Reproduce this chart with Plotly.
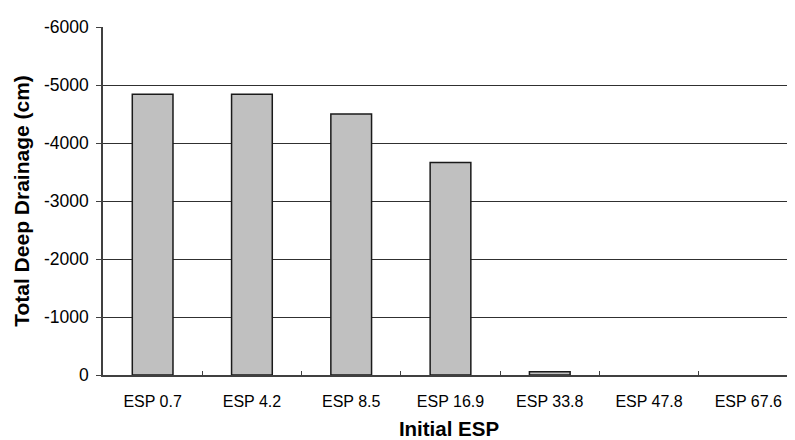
import plotly.graph_objects as go

categories = ["ESP 0.7", "ESP 4.2", "ESP 8.5", "ESP 16.9", "ESP 33.8", "ESP 47.8", "ESP 67.6"]
drainage = [-4840, -4840, -4500, -3665, -55, 0, 0]
y_ticks = [0, -1000, -2000, -3000, -4000, -5000, -6000]

font_family = "Liberation Sans, Arial, sans-serif"

# zero-valued bars are not outlined (as in the original chart)
outline_widths = [0 if v == 0 else 1.5 for v in drainage]

fig = go.Figure()
fig.add_trace(go.Bar(
    x=categories,
    y=drainage,
    width=0.41,
    marker=dict(color="#C0C0C0", line=dict(color="#1a1a1a", width=outline_widths)),
))

fig.update_layout(
    width=787,
    height=432,
    margin=dict(l=95, r=0, t=19, b=65),
    paper_bgcolor="white",
    plot_bgcolor="white",
    showlegend=False,
    font=dict(family=font_family, color="black"),
)

fig.update_xaxes(
    range=[-0.5, 6.47],
    showgrid=False,
    showline=True,
    linecolor="#404040",
    linewidth=1.5,
    ticks="inside",
    tickson="boundaries",
    ticklen=4,
    tickcolor="#404040",
    tickwidth=1,
    tickfont=dict(size=16, family=font_family),
    ticklabelstandoff=11,
    title=dict(text="<b>Initial ESP</b>", font=dict(size=20.5, family=font_family), standoff=14),
    automargin=False,
)

fig.update_yaxes(
    range=[0, -6000],
    tickvals=y_ticks,
    ticktext=[str(v) for v in y_ticks],
    showgrid=True,
    gridcolor="#303030",
    gridwidth=1,
    zeroline=False,
    showline=True,
    linecolor="#404040",
    linewidth=1.5,
    ticks="outside",
    ticklen=5,
    tickcolor="#404040",
    tickfont=dict(size=17.5, family=font_family),
    ticklabelstandoff=4,
    title=dict(text="<b>Total Deep Drainage (cm)</b>", font=dict(size=21, family=font_family), standoff=9),
    automargin=False,
)

fig.write_html("out.html")
